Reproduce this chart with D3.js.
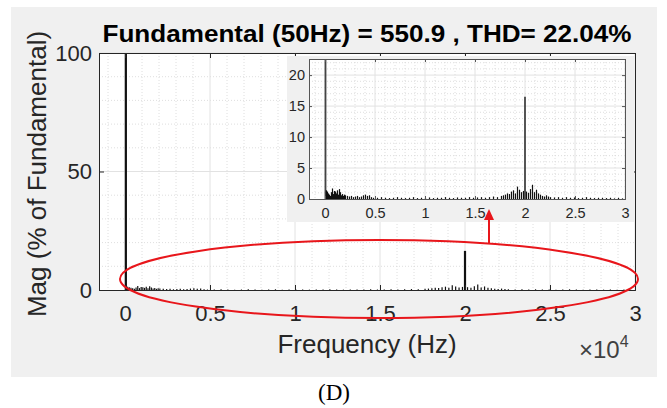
<!DOCTYPE html>
<html><head><meta charset="utf-8">
<script src="https://cdn.jsdelivr.net/npm/d3@7"></script>
<style>
html,body{margin:0;padding:0;background:#fff;}
svg{display:block;}
</style></head>
<body>
<svg id="c" width="667" height="408" font-family='"Liberation Sans",Arial,Helvetica,sans-serif'></svg>
<script>
// ---- data ----
const titleText = "Fundamental (50Hz) = 550.9 , THD= 22.04%";
const xLabel = "Frequency (Hz)";
const yLabel = "Mag (% of Fundamental)";
const caption = "(D)";
const xTicks = [0, 5000, 10000, 15000, 20000, 25000, 30000];
const xTickLabels = ["0", "0.5", "1", "1.5", "2", "2.5", "3"];
const yTicksMain = [0, 50, 100];
const yTicksInset = [0, 5, 10, 15, 20];
// harmonic spectrum: frequency (Hz) and magnitude (% of fundamental)
const freqHz = [50,150,250,350,450,550,650,750,850,950,1050,1150,1250,1350,1450,1550,1650,1750,1850,1950,
  2050,2250,2450,2650,2850,3050,3250,3450,3650,3850,4050,4250,4450,4650,4850,5250,5650,6050,6450,6850,
  7250,7650,8050,8450,8850,9250,9650,10050,10450,10850,11250,11650,12050,12450,12850,13250,13650,14050,14450,14850,
  15250,15650,16050,16450,16850,17250,17650,17850,18050,18250,18450,18650,18850,19050,19250,19450,19650,19850,20000,20150,
  20350,20550,20750,20950,21150,21350,21550,21750,21950,22150,22350,22550,22950,23350,23750,24150,24550,24950,25350,25750,
  26150,26550,26950,27350,27750,28150,28550,28950,29350,29750];
const magPct = [100,1.4,1.2,0.9,0.7,0.5,1.1,1.7,0.8,1.3,1.2,0.9,1.4,0.7,1.6,1.1,0.6,0.8,0.5,0.7,
  0.6,0.5,0.4,0.5,0.3,0.4,0.5,0.3,0.4,0.6,0.7,0.5,0.6,0.3,0.2,0.2,0.3,0.2,0.15,0.2,
  0.3,0.2,0.15,0.2,0.3,0.15,0.2,0.2,0.25,0.15,0.2,0.2,0.3,0.2,0.15,0.25,0.2,0.2,0.3,0.2,
  0.25,0.3,0.2,0.3,0.4,0.3,0.5,0.6,0.7,0.9,0.8,1.2,1.4,0.9,2.0,1.5,1.1,1.3,16.5,1.2,
  1.0,1.6,2.3,1.1,1.5,0.9,0.7,0.5,0.4,0.6,0.4,0.3,0.25,0.3,0.2,0.3,0.2,0.25,0.15,0.2,
  0.3,0.2,0.15,0.2,0.2,0.15,0.2,0.1,0.2,0.1];
const spectrum = freqHz.map((f, i) => ({f: f, m: magPct[i]}));

// ---- drawing ----
const svg = d3.select("#c");
const ink = "#262626";
const sans = '"Liberation Sans",Arial,Helvetica,sans-serif';

svg.append("rect").attr("x", 11).attr("y", 7).attr("width", 646).attr("height", 370).attr("fill", "#f0f0f0");

function panel(g, box, yMax, yTicks, opts) {
  const x = d3.scaleLinear().domain([opts.x0, 30000]).range([box.l, box.r]);
  const y = d3.scaleLinear().domain([0, yMax]).range([box.b, box.t]);
  g.append("rect").attr("x", box.l).attr("y", box.t).attr("width", box.r - box.l).attr("height", box.b - box.t).attr("fill", "#fff");
  const minorX = d3.range(-1000, 30001, 1000);
  const minorY = d3.range(0, yMax + 0.001, opts.minorY);
  g.append("g").selectAll("line").data(minorX.filter(v => v >= opts.x0 && v % 5000 !== 0)).join("line")
    .attr("x1", d => x(d)).attr("x2", d => x(d)).attr("y1", box.t).attr("y2", box.b)
    .attr("stroke", "#d6d6d6").attr("stroke-width", 0.8).attr("stroke-dasharray", "1,2");
  g.append("g").selectAll("line").data(minorY.filter(v => !yTicks.includes(v))).join("line")
    .attr("x1", box.l).attr("x2", box.r).attr("y1", d => y(d)).attr("y2", d => y(d))
    .attr("stroke", "#d6d6d6").attr("stroke-width", 0.8).attr("stroke-dasharray", "1,2");
  g.append("g").selectAll("line").data(xTicks).join("line")
    .attr("x1", d => x(d)).attr("x2", d => x(d)).attr("y1", box.t).attr("y2", box.b)
    .attr("stroke", "#e2e2e2").attr("stroke-width", 1);
  g.append("g").selectAll("line").data(yTicks.filter(v => v > 0)).join("line")
    .attr("x1", box.l).attr("x2", box.r).attr("y1", d => y(d)).attr("y2", d => y(d))
    .attr("stroke", "#e2e2e2").attr("stroke-width", 1);
  const clipId = "clip" + opts.id;
  g.append("clipPath").attr("id", clipId).append("rect")
    .attr("x", box.l).attr("y", box.t).attr("width", box.r - box.l).attr("height", box.b - box.t);
  g.append("g").attr("clip-path", `url(#${clipId})`).selectAll("line").data(spectrum).join("line")
    .attr("x1", d => x(d.f)).attr("x2", d => x(d.f)).attr("y1", y(0)).attr("y2", d => y(d.m))
    .attr("stroke", d => d.m > 10 ? opts.spike : "#111").attr("stroke-width", d => d.m > 10 ? opts.spikeW : 1.2);
  const fmt = (d) => xTickLabels[xTicks.indexOf(d)];
  const ax = g.append("g").attr("transform", `translate(0,${box.b})`)
    .call(d3.axisBottom(x).tickValues(xTicks).tickFormat(fmt).tickSize(-opts.tick).tickPadding(opts.xpad));
  const axT = g.append("g").attr("transform", `translate(0,${box.t})`)
    .call(d3.axisTop(x).tickValues(xTicks).tickFormat("").tickSize(-opts.tick));
  const ay = g.append("g").attr("transform", `translate(${box.l},0)`)
    .call(d3.axisLeft(y).tickValues(yTicks).tickSize(-opts.tick).tickPadding(opts.ypad));
  const ayR = g.append("g").attr("transform", `translate(${box.r},0)`)
    .call(d3.axisRight(y).tickValues(yTicks).tickFormat("").tickSize(-opts.tick));
  [ax, axT, ay, ayR].forEach(a => {
    a.attr("font-family", sans).attr("font-size", opts.fs);
    a.select(".domain").attr("stroke", opts.frame).attr("stroke-width", 1);
    a.selectAll(".tick line").attr("stroke", opts.frame);
    a.selectAll("text").attr("fill", ink);
  });
  return {x, y};
}

// main axes
const main = svg.append("g");
panel(main, {l: 99, r: 635, t: 53, b: 290}, 100, yTicksMain,
  {id: "m", x0: -1530, minorY: 10, tick: 5, xpad: 15, ypad: 7, fs: 22, spike: "#111", spikeW: 2.2, frame: ink});

// inset
svg.append("rect").attr("x", 287).attr("y", 56).attr("width", 347).attr("height", 166).attr("fill", "#f0f0f0");
const inset = svg.append("g");
panel(inset, {l: 309, r: 625, t: 59, b: 199}, 22.6, yTicksInset,
  {id: "i", x0: -1600, minorY: 1, tick: 3, xpad: 9, ypad: 4, fs: 14.5, spike: "#444", spikeW: 1.8, frame: "#555"});

// title & labels
svg.append("text").attr("x", 367).attr("y", 42).attr("text-anchor", "middle")
  .attr("font-size", 24.5).attr("font-weight", "bold").attr("fill", "#000")
  .attr("textLength", 529).attr("lengthAdjust", "spacingAndGlyphs").text(titleText);
svg.append("text").attr("x", 367).attr("y", 353).attr("text-anchor", "middle")
  .attr("font-size", 26).attr("fill", ink).text(xLabel);
svg.append("text").attr("transform", "translate(46,174) rotate(-90)").attr("text-anchor", "middle")
  .attr("font-size", 26).attr("fill", ink).text(yLabel);
const ex = svg.append("text").attr("x", 579).attr("y", 358).attr("font-size", 24).attr("fill", "#404040");
ex.append("tspan").text("\u00d710");
ex.append("tspan").attr("dy", -11).attr("font-size", 16).text("4");
svg.append("text").attr("x", 334).attr("y", 400).attr("text-anchor", "middle")
  .attr("font-family", '"Liberation Serif","Times New Roman",serif').attr("font-size", 23).attr("fill", "#000").text(caption);

// red annotation
svg.append("ellipse").attr("cx", 379).attr("cy", 279).attr("rx", 259).attr("ry", 39)
  .attr("fill", "none").attr("stroke", "#e8161b").attr("stroke-width", 2);
svg.append("line").attr("x1", 489).attr("x2", 489).attr("y1", 243).attr("y2", 219)
  .attr("stroke", "#e8161b").attr("stroke-width", 2);
svg.append("path").attr("d", "M484,220 L494,220 L489,209 Z").attr("fill", "#e8161b");
</script>
</body></html>
